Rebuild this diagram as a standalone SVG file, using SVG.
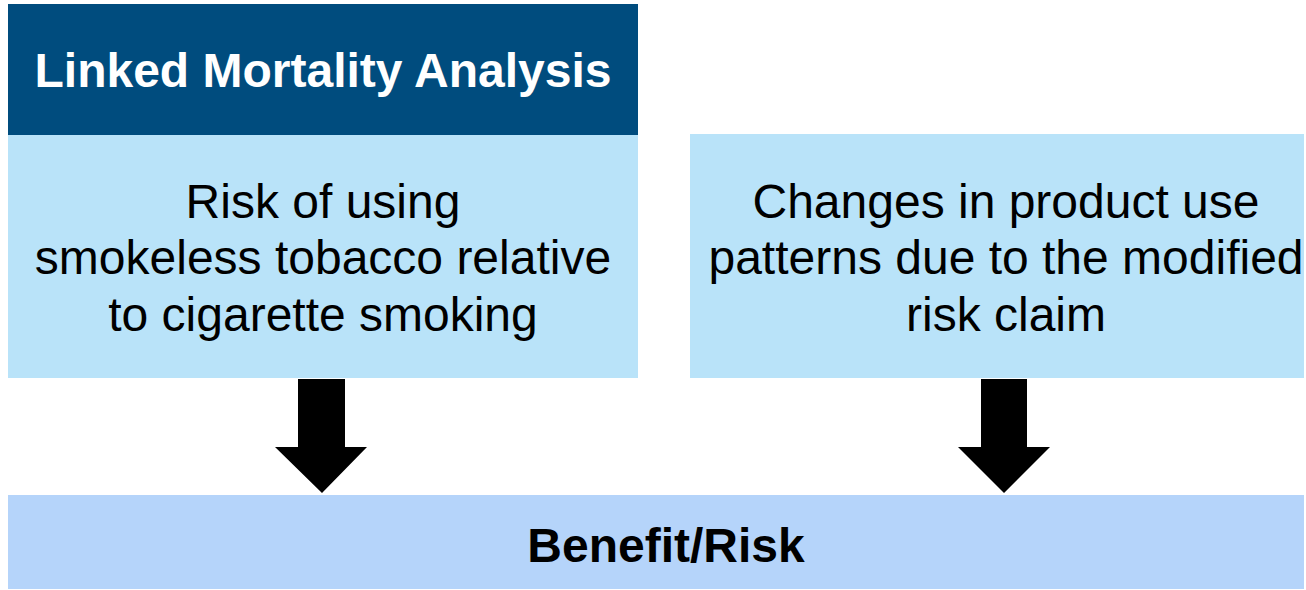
<svg xmlns="http://www.w3.org/2000/svg" width="1306" height="590" viewBox="0 0 1306 590">
<style>
text{font-family:"Liberation Sans",Arial,sans-serif;text-anchor:middle}
.t{font-size:48px;fill:#000}
.b{font-size:48px;font-weight:bold}
.arrow{fill:#000}
</style>
<rect width="1306" height="590" fill="#fff"/>
<g id="linked-mortality">
<rect x="8" y="4" width="630" height="131" fill="#004C7E"/>
<text class="b" x="323" y="87" fill="#fff">Linked Mortality Analysis</text>
</g>
<g id="risk-node">
<rect x="8" y="135" width="630" height="243" fill="#B9E3F9"/>
<text class="t" x="323" y="218">Risk of using</text>
<text class="t" x="323" y="274">smokeless tobacco relative</text>
<text class="t" x="323" y="331">to cigarette smoking</text>
</g>
<g id="changes-node">
<rect x="690" y="134" width="614" height="244" fill="#B9E3F9"/>
<text class="t" x="1006" y="218">Changes in product use</text>
<text class="t" x="1006" y="274">patterns due to the modified</text>
<text class="t" x="1006" y="331">risk claim</text>
</g>
<g id="benefit-risk">
<rect x="8" y="495" width="1296" height="94" fill="#B5D4FA"/>
<text class="b" x="666" y="562" fill="#000">Benefit/Risk</text>
</g>
<g id="connectors">
<polygon class="arrow" points="298,379 345,379 345,447 367,447 322,493 275,447 298,447"/>
<polygon class="arrow" points="981,379 1027,379 1027,447 1050,447 1004,493 958,447 981,447"/>
</g>
</svg>
